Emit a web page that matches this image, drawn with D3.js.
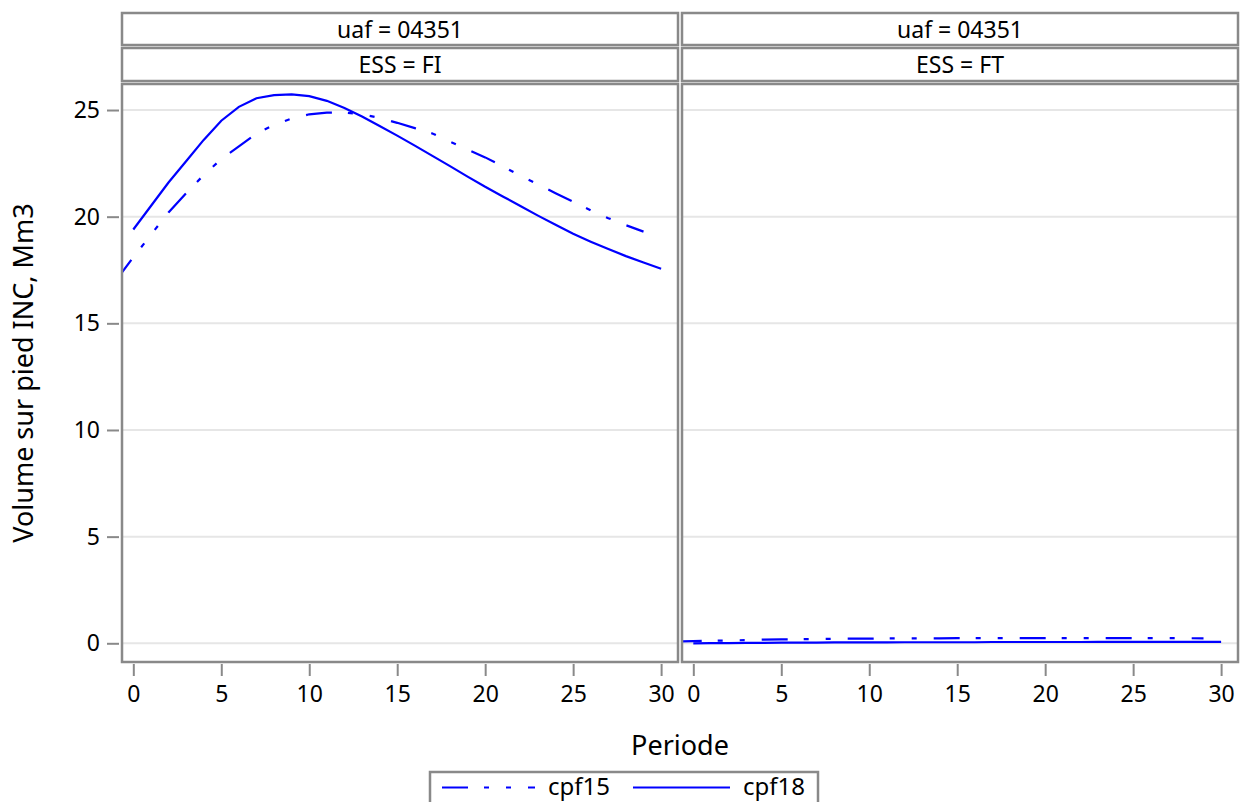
<!DOCTYPE html>
<html>
<head>
<meta charset="utf-8">
<script src="https://cdn.jsdelivr.net/npm/d3@7"></script>
<style>
  html, body { margin: 0; padding: 0; background: #fff; }
  svg { display: block; font-family: "Noto Sans", "Open Sans", sans-serif; }
</style>
</head>
<body>
<svg id="chart" width="1247" height="802"></svg>
<script>
// ---- data ----
const panelTitlesTop = ["uaf = 04351", "uaf = 04351"];
const panelTitlesEss = ["ESS = FI", "ESS = FT"];
const seriesNames = ["cpf15", "cpf18"];
const xTicks = [0, 5, 10, 15, 20, 25, 30];
const yTicks = [0, 5, 10, 15, 20, 25];

const periods15 = [-1,0,1,2,3,4,5,6,7,8,9,10,11,12,13,14,15,16,17,18,19,20,21,22,23,24,25,26,27,28,29];
const periods18 = [0,1,2,3,4,5,6,7,8,9,10,11,12,13,14,15,16,17,18,19,20,21,22,23,24,25,26,27,28,29,30];

const cpf15_FI = [17.0,18.1,19.15,20.2,21.1,21.95,22.7,23.3,23.9,24.3,24.6,24.8,24.88,24.88,24.8,24.63,24.4,24.15,23.9,23.52,23.15,22.78,22.36,21.92,21.52,21.1,20.7,20.3,19.93,19.6,19.3];
const cpf18_FI = [19.4,20.5,21.6,22.6,23.6,24.5,25.15,25.55,25.7,25.73,25.65,25.43,25.1,24.7,24.25,23.8,23.33,22.85,22.37,21.88,21.4,20.95,20.5,20.05,19.62,19.2,18.83,18.48,18.15,17.85,17.56];
const cpf15_FT = [0.09,0.10,0.12,0.13,0.15,0.17,0.18,0.19,0.20,0.21,0.22,0.22,0.23,0.23,0.23,0.23,0.24,0.24,0.24,0.24,0.24,0.24,0.24,0.24,0.24,0.24,0.24,0.24,0.24,0.24,0.23];
const cpf18_FT = [0.00,0.01,0.01,0.02,0.02,0.03,0.03,0.03,0.04,0.04,0.04,0.04,0.05,0.05,0.05,0.05,0.05,0.06,0.06,0.06,0.06,0.06,0.06,0.07,0.07,0.07,0.07,0.07,0.07,0.07,0.07];

const panelData = [
  { s15: cpf15_FI, s18: cpf18_FI },
  { s15: cpf15_FT, s18: cpf18_FT }
];

// ---- layout ----
const svg = d3.select("#chart");
const BORDER = "#898989";
const GRID = "#e6e6e6";
const BLUE = "#0000ff";
const DASHDOT = "26,16,5,17,5,17";
const BW = 2.5;

const panelX = [122, 682];
const panelW = 556;
const plotTop = 84, plotBottom = 662;

const y = d3.scaleLinear().domain([-0.877, 26.22]).range([plotBottom, plotTop]);

const defs = svg.append("defs");

panelX.forEach((px, i) => {
  const x = d3.scaleLinear().domain([-0.643, 30.96]).range([px, px + panelW]);

  // header cells
  const h1 = svg.append("g");
  h1.append("rect").attr("x", px).attr("y", 13).attr("width", panelW).attr("height", 32)
    .attr("fill", "#fff").attr("stroke", BORDER).attr("stroke-width", BW);
  h1.append("text").attr("x", px + panelW / 2).attr("y", 37.5).attr("text-anchor", "middle")
    .attr("font-size", 23).attr("fill", "#000").text(panelTitlesTop[i]);
  h1.append("rect").attr("x", px).attr("y", 48).attr("width", panelW).attr("height", 33)
    .attr("fill", "#fff").attr("stroke", BORDER).attr("stroke-width", BW);
  h1.append("text").attr("x", px + panelW / 2).attr("y", 72.5).attr("text-anchor", "middle")
    .attr("font-size", 23).attr("fill", "#000").text(panelTitlesEss[i]);

  // grid
  svg.append("g").selectAll("line").data(yTicks).join("line")
    .attr("x1", px).attr("x2", px + panelW)
    .attr("y1", d => y(d)).attr("y2", d => y(d))
    .attr("stroke", GRID).attr("stroke-width", 2);

  // clip
  defs.append("clipPath").attr("id", "clip" + i).append("rect")
    .attr("x", px).attr("y", plotTop).attr("width", panelW).attr("height", plotBottom - plotTop);

  const line = d3.line().x(d => x(d[0])).y(d => y(d[1]));
  const g = svg.append("g").attr("clip-path", `url(#clip${i})`);
  g.append("path").datum(periods18.map((p, k) => [p, panelData[i].s18[k]]))
    .attr("d", line).attr("fill", "none").attr("stroke", BLUE).attr("stroke-width", 2.2);
  g.append("path").datum(periods15.map((p, k) => [p, panelData[i].s15[k]]))
    .attr("d", line).attr("fill", "none").attr("stroke", BLUE).attr("stroke-width", 2.2)
    .attr("stroke-dasharray", DASHDOT);

  // panel border
  svg.append("rect").attr("x", px).attr("y", plotTop).attr("width", panelW).attr("height", plotBottom - plotTop)
    .attr("fill", "none").attr("stroke", BORDER).attr("stroke-width", BW);

  // x axis
  const xAxis = d3.axisBottom(x).tickValues(xTicks).tickSize(12).tickPadding(10).tickFormat(d3.format("d"));
  const xg = svg.append("g").attr("transform", `translate(0,${plotBottom + 2})`).call(xAxis);
  xg.select(".domain").remove();
  xg.selectAll(".tick line").attr("stroke", BORDER).attr("stroke-width", 2);
  xg.selectAll(".tick text").attr("font-size", 23).attr("font-family", "Noto Sans").attr("fill", "#000");

  if (i === 0) {
    const yAxis = d3.axisLeft(y).tickValues(yTicks).tickSize(12).tickPadding(7);
    const yg = svg.append("g").attr("transform", `translate(${px - 3},0)`).call(yAxis);
    yg.select(".domain").remove();
    yg.selectAll(".tick line").attr("stroke", BORDER).attr("stroke-width", 2);
    yg.selectAll(".tick text").attr("font-size", 23).attr("font-family", "Noto Sans").attr("fill", "#000");
  }
});

// axis titles
svg.append("text").attr("x", 680).attr("y", 755).attr("text-anchor", "middle")
  .attr("font-size", 27).attr("fill", "#000").text("Periode");
svg.append("text").attr("transform", "translate(33,373) rotate(-90)").attr("text-anchor", "middle")
  .attr("font-size", 27).attr("fill", "#000").text("Volume sur pied INC, Mm3");

// legend
const lg = svg.append("g");
lg.append("rect").attr("x", 430).attr("y", 772).attr("width", 388).attr("height", 40)
  .attr("fill", "#fff").attr("stroke", BORDER).attr("stroke-width", BW);
const legendItems = [
  { name: seriesNames[0], x1: 442, x2: 535, dash: DASHDOT, tx: 548 },
  { name: seriesNames[1], x1: 633, x2: 730, dash: null, tx: 743 }
];
legendItems.forEach(it => {
  const l = lg.append("line").attr("x1", it.x1).attr("x2", it.x2).attr("y1", 787.5).attr("y2", 787.5)
    .attr("stroke", BLUE).attr("stroke-width", 2.2);
  if (it.dash) l.attr("stroke-dasharray", it.dash);
  lg.append("text").attr("x", it.tx).attr("y", 795).attr("font-size", 24).attr("fill", "#000").text(it.name);
});
</script>
</body>
</html>
